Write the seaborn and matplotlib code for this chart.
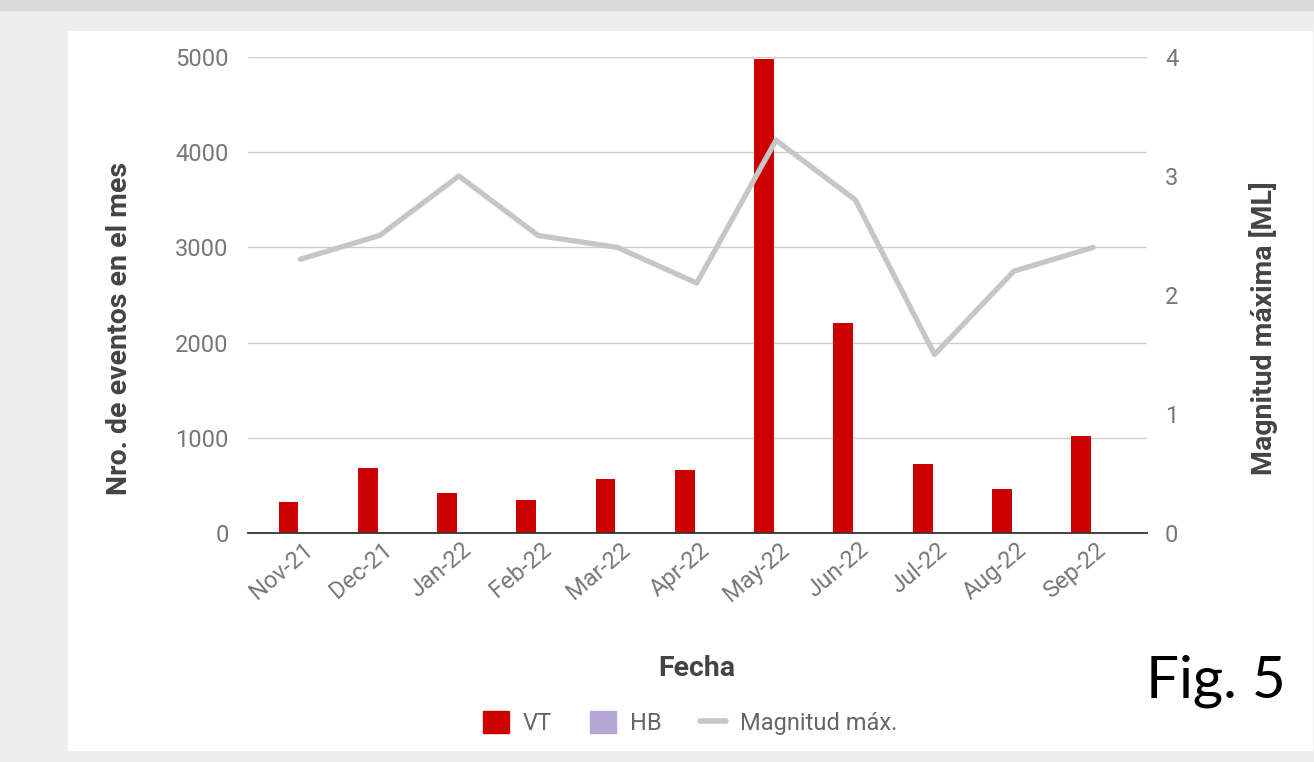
import matplotlib
matplotlib.use("Agg")
import matplotlib.pyplot as plt
from matplotlib.patches import Patch, Rectangle
from matplotlib.lines import Line2D
from matplotlib.transforms import ScaledTranslation
import pandas as pd
import seaborn as sns
import numpy as np

# datos
meses = ['Nov-21', 'Dec-21', 'Jan-22', 'Feb-22', 'Mar-22', 'Apr-22',
         'May-22', 'Jun-22', 'Jul-22', 'Aug-22', 'Sep-22']
vt = [330, 680, 420, 350, 570, 660, 4980, 2210, 720, 460, 1020]
hb = [0, 0, 0, 0, 0, 0, 0, 0, 0, 0, 0]
magnitud = [2.3, 2.5, 3.0, 2.5, 2.4, 2.1, 3.3, 2.8, 1.5, 2.2, 2.4]
yticks_izq = [0, 1000, 2000, 3000, 4000, 5000]
yticks_der = [0, 1, 2, 3, 4]

ROJO = '#cc0000'
LILA = '#b4a7d6'
GRIS_LINEA = '#c6c6c6'
GRIS_TXT = '#777777'
TITULO = '#444444'

sns.set_theme(style='white')
plt.rcParams['font.family'] = ['Roboto', 'DejaVu Sans']

W, H = 1314, 762
fig = plt.figure(figsize=(W / 100, H / 100), dpi=100)
fig.patch.set_facecolor('#eeeeee')
# franja superior y panel blanco
fig.add_artist(Rectangle((0, 1 - 10 / H), 1, 10 / H, transform=fig.transFigure,
                         color='#dadada', zorder=-10))
fig.add_artist(Rectangle((68 / W, 1 - 750 / H), (1312 - 68) / W, (750 - 31) / H,
                         transform=fig.transFigure, color='white', zorder=-10))

ax = fig.add_axes([248 / W, 1 - 533 / H, 899 / W, 476 / H])
ax.patch.set_alpha(0)

df = pd.DataFrame({
    'mes': meses * 2,
    'serie': ['VT'] * len(meses) + ['HB'] * len(meses),
    'valor': vt + hb,
})
sns.barplot(data=df, x='mes', y='valor', hue='serie', hue_order=['VT', 'HB'],
            palette={'VT': ROJO, 'HB': LILA}, saturation=1, width=0.6, gap=0.17,
            linewidth=0, legend=False, ax=ax)

ax.set_ylim(0, 5000)
ax.set_yticks(yticks_izq)
ax.yaxis.grid(True, color='#cccccc', lw=1)
ax.set_axisbelow(True)
for s in ['top', 'right', 'left']:
    ax.spines[s].set_visible(False)
ax.spines['bottom'].set_color('#333333')
ax.spines['bottom'].set_linewidth(1.3)
ax.spines['bottom'].set_zorder(5)
ax.set_xlabel('')
ax.set_ylabel('')
ax.tick_params(axis='y', length=0, pad=14, labelsize=17, labelcolor=GRIS_TXT)
ax.tick_params(axis='x', length=0, pad=10, labelsize=17, labelcolor=GRIS_TXT)
desplaza = ScaledTranslation(10 / 100, 0, fig.dpi_scale_trans)
for lbl in ax.get_xticklabels():
    lbl.set_rotation(40)
    lbl.set_ha('right')
    lbl.set_va('center')
    lbl.set_rotation_mode('anchor')
    lbl.set_transform(lbl.get_transform() + desplaza)

ax2 = ax.twinx()
sns.lineplot(x=np.arange(len(meses)), y=magnitud, color=GRIS_LINEA, lw=3.8,
             ax=ax2)
ax2.set_ylim(0, 4)
ax2.set_yticks(yticks_der)
ax2.grid(False)
for s in ax2.spines.values():
    s.set_visible(False)
ax2.tick_params(axis='y', length=0, pad=13, labelsize=17, labelcolor=GRIS_TXT)
ax.set_xlim(-0.66, 10.68)

# titulos de ejes
fig.text(120 / W, 1 - 328 / H, 'Nro. de eventos en el mes', rotation=90,
         ha='center', va='center', fontsize=20.5, fontweight='bold', color=TITULO)
fig.text(1263 / W, 1 - 328 / H, 'Magnitud máxima [ML]', rotation=90,
         ha='center', va='center', fontsize=20.5, fontweight='bold', color=TITULO)
fig.text(697 / W, 1 - 668 / H, 'Fecha', ha='center', va='center',
         fontsize=20.5, fontweight='bold', color=TITULO)

handles = [Patch(color=ROJO, label='VT'), Patch(color=LILA, label='HB'),
           Line2D([], [], color=GRIS_LINEA, lw=4, label='Magnitud máx.')]
fig.legend(handles=handles, loc='center', bbox_to_anchor=(690 / W, 1 - 723 / H),
           ncol=3, frameon=False, fontsize=17, labelcolor='#666666',
           handlelength=1.1, handleheight=1.1, handletextpad=0.6,
           columnspacing=1.6)

fig.text(1146 / W, 1 - 697 / H, 'Fig. 5', ha='left', va='baseline',
         fontsize=42, family=['Lato', 'DejaVu Sans'], color='black')

fig.savefig('out.png', dpi=100, facecolor=fig.get_facecolor())
